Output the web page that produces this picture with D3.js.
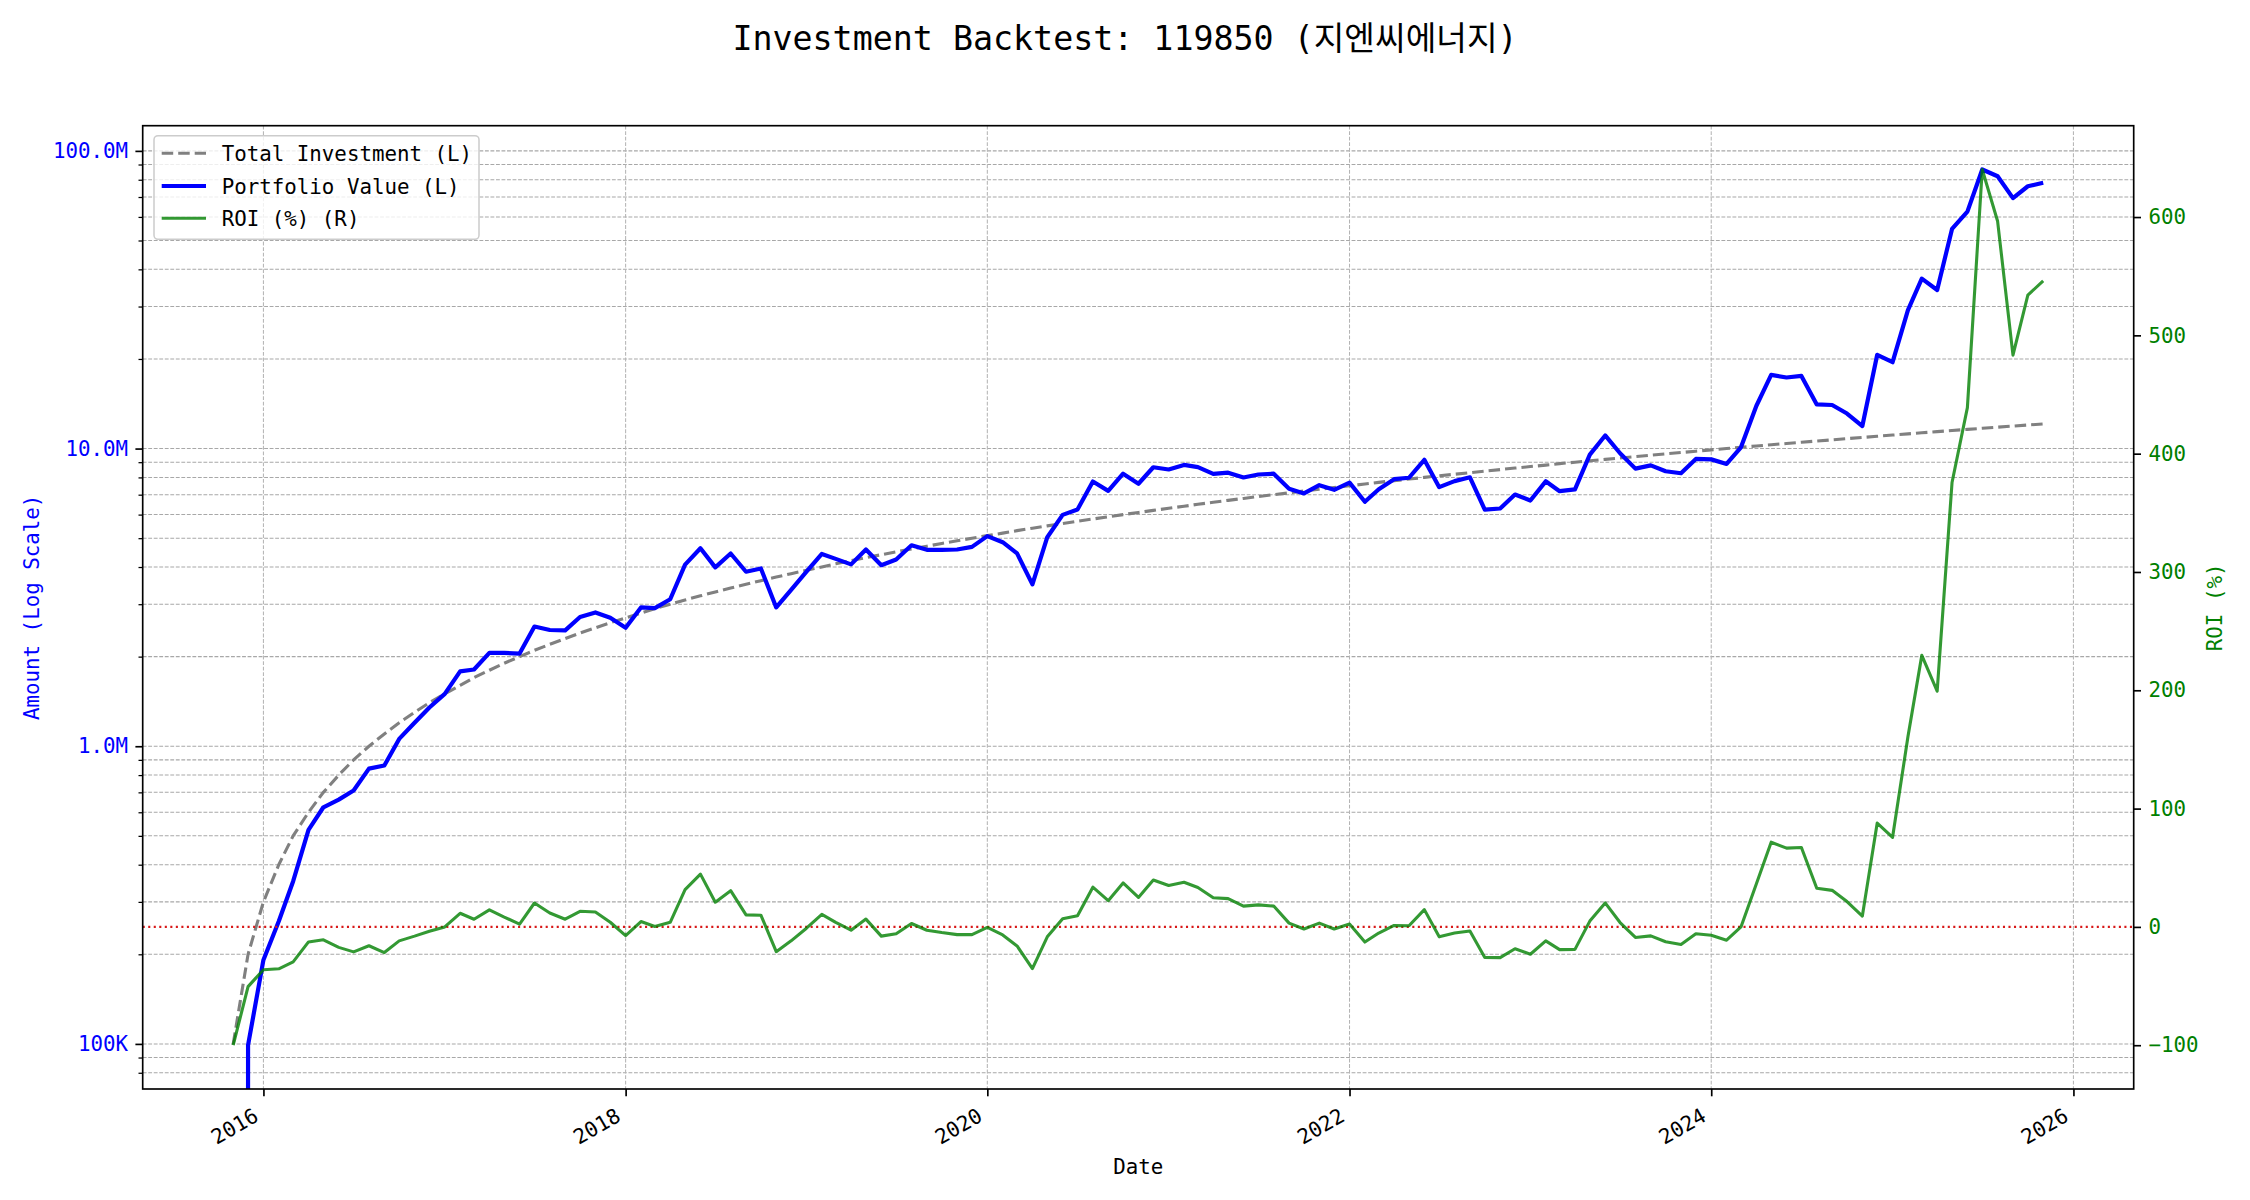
<!DOCTYPE html>
<html><head><meta charset="utf-8">
<script src="https://cdn.jsdelivr.net/npm/d3@7"></script>
<style>
html,body{margin:0;padding:0;background:#fff;}
svg{display:block;}
text{font-family:"DejaVu Sans Mono","Noto Sans CJK KR",monospace;}
</style></head><body>
<svg id="chart" width="2250" height="1200"></svg>
<script>
// ---------------- data ----------------
const months = [
 "2015-11","2015-12",
 "2016-01","2016-02","2016-03","2016-04","2016-05","2016-06","2016-07","2016-08","2016-09","2016-10","2016-11","2016-12",
 "2017-01","2017-02","2017-03","2017-04","2017-05","2017-06","2017-07","2017-08","2017-09","2017-10","2017-11","2017-12",
 "2018-01","2018-02","2018-03","2018-04","2018-05","2018-06","2018-07","2018-08","2018-09","2018-10","2018-11","2018-12",
 "2019-01","2019-02","2019-03","2019-04","2019-05","2019-06","2019-07","2019-08","2019-09","2019-10","2019-11","2019-12",
 "2020-01","2020-02","2020-03","2020-04","2020-05","2020-06","2020-07","2020-08","2020-09","2020-10","2020-11","2020-12",
 "2021-01","2021-02","2021-03","2021-04","2021-05","2021-06","2021-07","2021-08","2021-09","2021-10","2021-11","2021-12",
 "2022-01","2022-02","2022-03","2022-04","2022-05","2022-06","2022-07","2022-08","2022-09","2022-10","2022-11","2022-12",
 "2023-01","2023-02","2023-03","2023-04","2023-05","2023-06","2023-07","2023-08","2023-09","2023-10","2023-11","2023-12",
 "2024-01","2024-02","2024-03","2024-04","2024-05","2024-06","2024-07","2024-08","2024-09","2024-10","2024-11","2024-12",
 "2025-01","2025-02","2025-03","2025-04","2025-05","2025-06","2025-07","2025-08","2025-09","2025-10","2025-11"
];
// cumulative amount invested, in millions of won
const totalInvestM = [
 0.1,0.2,0.3,0.4,0.5,0.6,0.7,0.8,0.9,1.0,1.1,1.2,1.3,1.4,1.5,1.6,1.7,1.8,1.9,2.0,
 2.1,2.2,2.3,2.4,2.5,2.6,2.7,2.8,2.9,3.0,3.1,3.2,3.3,3.4,3.5,3.6,3.7,3.8,3.9,4.0,
 4.1,4.2,4.3,4.4,4.5,4.6,4.7,4.8,4.9,5.0,5.1,5.2,5.3,5.4,5.5,5.6,5.7,5.8,5.9,6.0,
 6.1,6.2,6.3,6.4,6.5,6.6,6.7,6.8,6.9,7.0,7.1,7.2,7.3,7.4,7.5,7.6,7.7,7.8,7.9,8.0,
 8.1,8.2,8.3,8.4,8.5,8.6,8.7,8.8,8.9,9.0,9.1,9.2,9.3,9.4,9.5,9.6,9.7,9.8,9.9,10.0,
 10.1,10.2,10.3,10.4,10.5,10.6,10.7,10.8,10.9,11.0,11.1,11.2,11.3,11.4,11.5,11.6,11.7,11.8,11.9,12.0,
 12.1
];
// ROI (%)
const roiPct = [
 -100,-50.5,-36.2,-35.4,-29.6,-12.7,-10.9,-17.3,-21.1,-15.9,
 -21.7,-11.8,-7.8,-3.6,0,11.5,6.5,14.4,8.3,2.4,
 20.2,11.7,6.5,13.2,12.6,3.9,-7.4,4.5,0.4,3.9,
 31.5,44.6,20.9,30.6,10.2,9.9,-20.9,-11.8,-1.1,10.6,
 3.9,-2.8,6.6,-7.8,-5.8,2.9,-2.8,-4.8,-6.5,-6.5,
 -0.4,-6.8,-16.1,-35.2,-8.4,6.9,9.5,33.6,22.2,37.2,
 24.9,39.6,35.0,37.7,33.3,24.6,23.9,17.6,18.6,17.6,
 3.2,-1.8,3.2,-1.8,2.5,-12.8,-5.2,1.2,1.0,14.6,
 -8.4,-5.2,-3.5,-25.8,-26.0,-18.5,-23.1,-11.8,-19.2,-19.0,
 4.9,20.3,3.7,-8.9,-7.6,-12.6,-14.8,-5.8,-7.1,-11.2,
 0,36.3,71.6,66.6,67.1,32.7,30.9,21.4,9.2,87.8,
 75.7,160.7,229.5,199.2,375.6,438.9,640.2,596.4,483.3,534.0,
 546.1
];
const amountTicks = [1e5, 1e6, 1e7, 1e8];
const roiTicks = [-100, 0, 100, 200, 300, 400, 500, 600];
const xTickYears = [2016, 2018, 2020, 2022, 2024, 2026];
const titleText = "Investment Backtest: 119850 (지엔씨에너지)";
const legendLabels = ["Total Investment (L)", "Portfolio Value (L)", "ROI (%) (R)"];
const xLabel = "Date";
const yLabelLeft = "Amount (Log Scale)";
const yLabelRight = "ROI (%)";

// ---------------- derived ----------------
const parse = d3.timeParse("%Y-%m");
const rows = months.map((m, i) => {
  const inv = totalInvestM[i] * 1e6;
  return { date: parse(m), invest: inv, roi: roiPct[i], value: inv * (1 + roiPct[i] / 100) };
});

// ---------------- layout ----------------
const W = 2250, H = 1200;
const L = 142.7, R = 2133.7, T = 125.7, B = 1089;
const FS = 20.8;
const svg = d3.select("#chart");

// x scale with 5% margins
const t0 = rows[0].date, t1 = rows[rows.length - 1].date;
const pad = 0.05 * (t1 - t0);
const x = d3.scaleTime().domain([new Date(+t0 - pad), new Date(+t1 + pad)]).range([L, R]);

// log y with 5% margins in log space
const pos = rows.flatMap(r => [r.invest, r.value]).filter(v => v > 0);
const lo = Math.log10(d3.min(pos)), hi = Math.log10(d3.max(pos));
const sp = hi - lo;
const y = d3.scaleLog().domain([Math.pow(10, lo - 0.05 * sp), Math.pow(10, hi + 0.05 * sp)]).range([B, T]);

// roi scale with 5% margins
const rMin = d3.min(rows, r => r.roi), rMax = d3.max(rows, r => r.roi);
const rSp = rMax - rMin;
const yr = d3.scaleLinear().domain([rMin - 0.05 * rSp, rMax + 0.05 * rSp]).range([B, T]);

// minor ticks
const minor = [];
for (let e = 3; e <= 9; e++) for (let k = 2; k <= 9; k++) {
  const v = k * Math.pow(10, e);
  if (v >= y.domain()[0] && v <= y.domain()[1]) minor.push(v);
}
const majors = amountTicks.filter(v => v >= y.domain()[0] && v <= y.domain()[1]);

svg.append("defs").append("clipPath").attr("id", "plotclip")
  .append("rect").attr("x", L).attr("y", T).attr("width", R - L).attr("height", B - T);

// ---------------- grid ----------------
const grid = svg.append("g");
grid.selectAll("line.hg").data(majors.concat(minor)).join("line")
  .attr("x1", L).attr("x2", R).attr("y1", d => y(d)).attr("y2", d => y(d))
  .attr("stroke", "#a8a8a8").attr("stroke-width", 1.04).attr("stroke-dasharray", "3.85,1.67");
grid.selectAll("line.vg").data(xTickYears).join("line")
  .attr("x1", d => x(new Date(d, 0, 1))).attr("x2", d => x(new Date(d, 0, 1)))
  .attr("y1", T).attr("y2", B)
  .attr("stroke", "#b4b4b4").attr("stroke-width", 1.04).attr("stroke-dasharray", "3.85,1.67");

// ---------------- lines ----------------
const plot = svg.append("g").attr("clip-path", "url(#plotclip)");
const yv = v => v > 0 ? y(v) : B + 100000;

plot.append("path").datum(rows)
  .attr("d", d3.line().x(d => x(d.date)).y(d => y(d.invest)))
  .attr("fill", "none").attr("stroke", "#808080").attr("stroke-width", 3.1)
  .attr("stroke-dasharray", "11.5,5");

plot.append("path").datum(rows)
  .attr("d", d3.line().x(d => x(d.date)).y(d => yv(d.value)))
  .attr("fill", "none").attr("stroke", "#0000ff").attr("stroke-width", 4.2)
  .attr("stroke-linejoin", "round");

plot.append("line")
  .attr("x1", L).attr("x2", R).attr("y1", yr(0)).attr("y2", yr(0))
  .attr("stroke", "#d81818").attr("stroke-width", 2.08).attr("stroke-dasharray", "2.08,3.44");

plot.append("path").datum(rows)
  .attr("d", d3.line().x(d => x(d.date)).y(d => yr(d.roi)))
  .attr("fill", "none").attr("stroke", "#008000").attr("stroke-opacity", 0.8)
  .attr("stroke-width", 3.1).attr("stroke-linejoin", "round");

// ---------------- axes ----------------
function styleAxis(g, color) {
  g.select(".domain").remove();
  g.attr("font-family", "DejaVu Sans Mono").attr("font-size", FS);
  g.selectAll(".tick line").attr("stroke", "#000").attr("stroke-width", 1.67);
  g.selectAll(".tick text").attr("fill", color);
}
const fmtAmt = v => v >= 1e6 ? (v / 1e6).toFixed(1) + "M" : (v / 1e3).toFixed(0) + "K";

const gl = svg.append("g").attr("transform", `translate(${L},0)`)
  .call(d3.axisLeft(y).tickValues(majors).tickFormat(fmtAmt).tickSize(7.3).tickPadding(7.4));
styleAxis(gl, "#0000ff");
const glm = svg.append("g").attr("transform", `translate(${L},0)`)
  .call(d3.axisLeft(y).tickValues(minor).tickFormat("").tickSize(4.2));
glm.select(".domain").remove();
glm.selectAll(".tick line").attr("stroke", "#000").attr("stroke-width", 1.25);

const gr = svg.append("g").attr("transform", `translate(${R},0)`)
  .call(d3.axisRight(yr).tickValues(roiTicks).tickFormat(d3.format("d")).tickSize(7.3).tickPadding(7.4));
styleAxis(gr, "#008000");
gr.selectAll(".tick text").text(d => d < 0 ? "\u2212" + Math.abs(d) : String(d));

const gb = svg.append("g").attr("transform", `translate(0,${B})`)
  .call(d3.axisBottom(x).tickValues(xTickYears.map(yy => new Date(yy, 0, 1)))
    .tickFormat(d3.timeFormat("%Y")).tickSize(7.3));
styleAxis(gb, "#000");
gb.selectAll(".tick text")
  .attr("x", 0).attr("y", 0).attr("dy", null)
  .attr("text-anchor", "end")
  .attr("transform", "translate(-4,31) rotate(-30)");

// spines
svg.append("rect").attr("x", L).attr("y", T).attr("width", R - L).attr("height", B - T)
  .attr("fill", "none").attr("stroke", "#000").attr("stroke-width", 1.67);

// ---------------- labels ----------------
svg.append("text").attr("x", W / 2).attr("y", 50).attr("text-anchor", "middle")
  .attr("font-size", 33.3).attr("fill", "#000").text(titleText);
svg.append("text").attr("x", (L + R) / 2).attr("y", 1174).attr("text-anchor", "middle")
  .attr("font-size", FS).attr("fill", "#000").text(xLabel);
svg.append("text").attr("transform", `translate(32,${(T + B) / 2}) rotate(-90)`)
  .attr("text-anchor", "middle").attr("dominant-baseline", "central")
  .attr("font-size", FS).attr("fill", "#0000ff").text(yLabelLeft);
svg.append("text").attr("transform", `translate(2215,${(T + B) / 2}) rotate(-90)`)
  .attr("text-anchor", "middle").attr("dominant-baseline", "central")
  .attr("font-size", FS).attr("fill", "#008000").text(yLabelRight);

// ---------------- legend ----------------
const lg = svg.append("g");
lg.append("rect").attr("x", 154).attr("y", 135.7).attr("width", 325).attr("height", 103.6)
  .attr("rx", 4).attr("fill", "#fff").attr("fill-opacity", 0.8)
  .attr("stroke", "#cccccc").attr("stroke-width", 1.5);
const legendStyles = [
  { stroke: "#808080", width: 3.1, dash: "11.5,5", op: 1 },
  { stroke: "#0000ff", width: 4.2, dash: null, op: 1 },
  { stroke: "#008000", width: 3.1, dash: null, op: 0.8 }
];
const rowY = [153.3, 186, 218.3];
legendLabels.forEach((lab, i) => {
  const s = legendStyles[i];
  lg.append("line").attr("x1", 161.7).attr("x2", 206).attr("y1", rowY[i]).attr("y2", rowY[i])
    .attr("stroke", s.stroke).attr("stroke-width", s.width).attr("stroke-opacity", s.op)
    .attr("stroke-dasharray", s.dash);
  lg.append("text").attr("x", 221.7).attr("y", rowY[i] + 8)
    .attr("font-size", FS).attr("fill", "#000").text(lab);
});
</script>
</body></html>
